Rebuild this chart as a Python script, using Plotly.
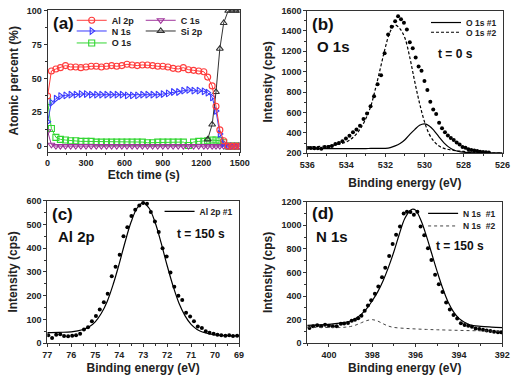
import plotly.graph_objects as go

W, H = 520, 375

# ---------------- Panel (a): depth profile ----------------
etch_time = [0, 30, 65, 100, 140, 180, 220, 260, 300, 340, 380, 420, 460, 500, 540, 580,
             620, 660, 700, 740, 780, 820, 860, 900, 940, 980, 1020, 1060, 1100, 1140,
             1180, 1220, 1250, 1285, 1315, 1345, 1375, 1410, 1440, 1470, 1500]
al_2p = [37, 55.5, 57, 58, 59.5, 58.5, 58.5, 58, 58.5, 59, 59, 58.5, 59, 59.5, 59, 59.5,
         60.5, 60, 59.5, 60, 60, 59.5, 59, 59, 58.5, 57.5, 57, 58, 56.5, 56,
         55.5, 55, 51, 44.5, 29.5, 12, 4, 0, 0, 0, 0]
n_1s = [18, 32, 35, 37, 37.5, 38, 38, 38.5, 38.5, 38, 38, 38, 38, 38, 38, 38,
        37.5, 37.5, 37.5, 38, 38, 38, 38, 38.5, 39, 40, 40, 41, 41.5, 41,
        41, 40.5, 39.5, 36, 26, 9, 2, 0, 0, 0, 0]
o_1s = [33, 13, 6.5, 5, 4.5, 4, 4, 3.5, 3.5, 3.5, 3, 3, 3, 3, 3, 3,
        3, 3, 3, 3, 2.5, 2.5, 3, 3, 3, 3, 3, 3, 0.5, 3,
        3.5, 3.5, 4, 4.5, 4.5, 4, 2.5, 0, 0, 0, 0]
c_1s = [11, 1, 0, 0, 0, 0, 0, 0, 0, 0, 0, 0, 0, 0, 0, 0,
        0, 0, 0, 0, 0, 0, 0, 0, 0, 0, 0, 0, 0, 0,
        0, 0, 0, 0, 0, 0, 0, 0, 0, 0, 0]
si_2p = [None] * 32 + [5, 16, 40, 72, 91, 100, 100, 100, 100]

# ---------------- Panel (b): O 1s, t = 0 s ----------------
o1s_be = [536.0, 535.82, 535.64, 535.46, 535.28, 535.1, 534.92, 534.74, 534.56, 534.38,
          534.2, 534.02, 533.84, 533.66, 533.48, 533.3, 533.12, 532.94, 532.76, 532.58,
          532.4, 532.22, 532.04, 531.86, 531.68, 531.5, 531.35, 531.2, 531.05, 530.9,
          530.75, 530.6, 530.45, 530.3, 530.15, 530.0, 529.85, 529.7, 529.55, 529.4,
          529.25, 529.1, 528.95, 528.8, 528.65, 528.5, 528.35, 528.2, 528.05, 527.9,
          527.75, 527.6, 527.45, 527.3, 527.15, 527.0, 526.85, 526.7]
o1s_cps = [252, 252, 250, 250, 244, 262, 262, 272, 290, 300,
           318, 345, 372, 405, 432, 470, 535, 590, 660, 760,
           878, 965, 1180, 1365, 1440, 1495, 1545, 1515, 1480, 1415,
           1290, 1230, 1140, 1050, 1010, 910, 820, 705, 630, 585,
           500, 445, 405, 375, 350, 330, 305, 285, 262, 255,
           240, 232, 228, 222, 214, 212, 210, 208]
o1s_fit_be = [536, 535.5, 535, 534.5, 534, 533.75, 533.5, 533.25, 533, 532.75, 532.5,
              532.25, 532, 531.75, 531.5, 531.25, 531, 530.75, 530.5, 530.25, 530,
              529.75, 529.5, 529.25, 529, 528.75, 528.5, 528.25, 528, 527.5, 527,
              526.5, 526]
o1s_fit1 = [245, 245, 245, 245, 245, 245, 246, 246, 246, 247, 247,
            247, 248, 255, 272, 296, 332, 385, 432, 474, 488,
            468, 420, 359, 302, 260, 232, 217, 210, 205, 204,
            203, 203]
o1s_fit2 = [262, 266, 272, 285, 310, 340, 385, 450, 540, 660, 840,
            1040, 1240, 1395, 1457, 1420, 1330, 1140, 905, 690, 510,
            385, 315, 270, 248, 237, 228, 222, 218, 210, 205,
            202, 200]

# ---------------- Panel (c): Al 2p, t = 150 s ----------------
al2p_be = [76.96, 76.8, 76.63, 76.46, 76.3, 76.13, 75.96, 75.8, 75.63, 75.47, 75.3, 75.14,
           74.97, 74.81, 74.64, 74.48, 74.31, 74.15, 73.98, 73.82, 73.66, 73.49, 73.33,
           73.16, 73.0, 72.84, 72.68, 72.51, 72.35, 72.19, 72.02, 71.86, 71.7, 71.53,
           71.37, 71.21, 71.04, 70.88, 70.72, 70.55, 70.39, 70.23, 70.06, 69.9, 69.74,
           69.57, 69.41, 69.25, 69.08]
al2p_cps = [34, 22, 36, 38, 30, 29, 31, 34, 40, 58, 67, 92,
            115, 142, 172, 208, 282, 322, 372, 450, 488, 535, 562,
            580, 590, 587, 552, 512, 468, 400, 365, 298, 238, 200,
            182, 128, 112, 92, 70, 64, 50, 44, 40, 36, 34,
            32, 34, 30, 32]
al2p_fit_be = [77, 76.5, 76, 75.5, 75.25, 75, 74.75, 74.5, 74.25, 74, 73.75, 73.5, 73.25,
               73, 72.75, 72.5, 72.25, 72, 71.75, 71.5, 71.25, 71, 70.75, 70.5, 70,
               69.5, 69]
al2p_fit1 = [45, 46, 48, 58, 69, 90, 125, 176, 248, 334, 427, 511, 569,
             591, 568, 508, 422, 327, 240, 167, 115, 79, 58, 46, 35,
             32, 31]

# ---------------- Panel (d): N 1s, t = 150 s ----------------
n1s_be = [401.09, 400.9, 400.73, 400.54, 400.36, 400.18, 400.0, 399.82, 399.64, 399.45,
          399.3, 399.12, 398.95, 398.8, 398.65, 398.5, 398.35, 398.2, 398.05, 397.88,
          397.72, 397.55, 397.4, 397.22, 397.06, 396.9, 396.72, 396.55, 396.4, 396.24,
          396.08, 395.92, 395.77, 395.6, 395.43, 395.27, 395.1, 394.93, 394.76, 394.59,
          394.42, 394.25, 394.08, 393.91, 393.74, 393.57, 393.4, 393.23, 393.06, 392.89,
          392.72, 392.55, 392.38, 392.2, 392.05]
n1s_cps = [143, 130, 143, 152, 143, 157, 149, 143, 143, 165,
           168, 171, 190, 199, 212, 232, 275, 320, 365, 420,
           480, 560, 640, 740, 840, 920, 990, 1100, 1115, 1112,
           1088, 1115, 990, 915, 805, 705, 580, 500, 435, 345,
           285, 240, 210, 170, 155, 148, 140, 125, 120, 115,
           108, 103, 97, 94, 92]
n1s_fit1_be = [401, 400.5, 400, 399.5, 399, 398.75, 398.5, 398.25, 398, 397.75, 397.5,
               397.25, 397, 396.75, 396.5, 396.25, 396.13, 396, 395.75, 395.5, 395.25,
               395, 394.75, 394.5, 394.25, 394, 393.75, 393.5, 393, 392.5, 392]
n1s_fit1 = [152, 155, 160, 170, 188, 212, 247, 295, 360, 435, 530,
            645, 777, 926, 1056, 1125, 1137, 1128, 1040, 908, 756,
            605, 466, 349, 266, 211, 178, 156, 143, 137, 133]
n1s_fit2_be = [401, 400.5, 400, 399.5, 399.25, 399, 398.75, 398.5, 398.25, 398, 397.75,
               397.5, 397.25, 397, 396.5, 396, 395.5, 395, 394, 393, 392]
n1s_fit2 = [135, 134, 133, 133, 136, 142, 155, 174, 192, 200, 188,
            165, 145, 134, 126, 121, 117, 114, 109, 105, 102]

FONT = "Arial, Liberation Sans, sans-serif"
FRAME = "#333333"

fig = go.Figure()

# ---- panel (a) traces ----
series_a = [
    ("O 1s", o_1s, "#33d633", "square-open", "legend3", 1),
    ("C 1s", c_1s, "#a0359c", "triangle-down-open", "legend", 2),
    ("N 1s", n_1s, "#3a3aff", "triangle-right-open", "legend2", 1),
    ("Si 2p", si_2p, "#333333", "triangle-up-open", "legend2", 2),
    ("Al 2p", al_2p, "#ff3c3c", "circle-open", "legend", 1),
]
for name, vals, col, sym, leg, rank in series_a:
    fig.add_trace(go.Scatter(
        x=etch_time, y=vals, name=name, mode="lines+markers",
        line=dict(color=col, width=1),
        marker=dict(symbol=sym, size=6, color=col, line=dict(width=1.1, color=col)),
        xaxis="x", yaxis="y", legend=leg, legendrank=rank, connectgaps=False))

# ---- panel (b) ----
fig.add_trace(go.Scatter(x=o1s_be, y=o1s_cps, mode="markers", showlegend=False,
                         marker=dict(color="black", size=4), xaxis="x2", yaxis="y2"))
fig.add_trace(go.Scatter(x=o1s_fit_be, y=o1s_fit1, mode="lines", name="O 1s #1",
                         line=dict(color="black", width=1.2, shape="spline"),
                         xaxis="x2", yaxis="y2", legend="legend4"))
fig.add_trace(go.Scatter(x=o1s_fit_be, y=o1s_fit2, mode="lines", name="O 1s #2",
                         line=dict(color="black", width=1.2, dash="3px,2px", shape="spline"),
                         xaxis="x2", yaxis="y2", legend="legend5"))

# ---- panel (c) ----
fig.add_trace(go.Scatter(x=al2p_be, y=al2p_cps, mode="markers", showlegend=False,
                         marker=dict(color="black", size=4), xaxis="x3", yaxis="y3"))
fig.add_trace(go.Scatter(x=al2p_fit_be, y=al2p_fit1, mode="lines", name="Al 2p #1",
                         line=dict(color="black", width=1.2, shape="spline"),
                         xaxis="x3", yaxis="y3", legend="legend6"))

# ---- panel (d) ----
fig.add_trace(go.Scatter(x=n1s_be, y=n1s_cps, mode="markers", showlegend=False,
                         marker=dict(color="black", size=4), xaxis="x4", yaxis="y4"))
fig.add_trace(go.Scatter(x=n1s_fit1_be, y=n1s_fit1, mode="lines", name="N 1s\u00a0\u00a0#1",
                         line=dict(color="black", width=1.2, shape="spline"),
                         xaxis="x4", yaxis="y4", legend="legend7"))
fig.add_trace(go.Scatter(x=n1s_fit2_be, y=n1s_fit2, mode="lines", name="N 1s\u00a0\u00a0#2",
                         line=dict(color="#444444", width=1, dash="dot", shape="spline"),
                         xaxis="x4", yaxis="y4", legend="legend8"))


def px_x(p):
    return p / W


def px_y(p):
    return 1 - p / H


tickfont = dict(family=FONT, size=9, color="#222222", weight="bold")
titlefont = dict(family=FONT, size=12, color="#222222", weight="bold")


def ax(domain, rng, dtick, minor, anchor, title, standoff):
    return dict(domain=domain, range=rng, dtick=dtick, tick0=0, anchor=anchor,
                showline=True, linecolor=FRAME, linewidth=1, mirror=True,
                ticks="outside", ticklen=3, tickcolor=FRAME, tickwidth=1,
                minor=dict(dtick=minor, ticks="outside", ticklen=2, tickcolor=FRAME),
                showgrid=False, zeroline=False, tickfont=tickfont,
                title=dict(text=title, font=titlefont, standoff=standoff))


layout = dict(
    width=W, height=H, margin=dict(l=0, r=0, t=0, b=0),
    paper_bgcolor="white", plot_bgcolor="white",
    xaxis=ax([px_x(41), px_x(240)], [0, 1500], 300, 150, "y", "Etch time (s)", 3),
    yaxis=ax([px_y(150.7), px_y(5)], [-4.1, 100.7], 25, 12.5, "x", "Atomic percent (%)", 5),
    xaxis2=ax([px_x(310), px_x(512.3)], [536, 526], 2, 1, "y2", "Binding energy (eV)", 9),
    yaxis2=ax([px_y(152.3), px_y(5.7)], [200, 1600], 200, 100, "x2", "Intensity (cps)", 6),
    xaxis3=ax([px_x(40.7), px_x(239.3)], [77, 69], 1, 0.5, "y3", "Binding energy (eV)", 4),
    yaxis3=ax([px_y(347.5), px_y(201)], [0, 600], 100, 50, "x3", "Intensity (cps)", 6),
    xaxis4=ax([px_x(310), px_x(512)], [401, 392], 2, 1, "y4", "Binding energy (eV)", 4),
    yaxis4=ax([px_y(347.5), px_y(202)], [0, 1200], 200, 100, "x4", "Intensity (cps)", 6),
    showlegend=True,
)


def leg(xp, yp, size=9, ew=None):
    d = dict(x=px_x(xp), y=px_y(yp), xanchor="left", yanchor="middle",
             bgcolor="rgba(0,0,0,0)", borderwidth=0, orientation="h",
             font=dict(family=FONT, size=size, color="#222222", weight="bold"),
             itemclick=False, itemdoubleclick=False, traceorder="normal")
    if ew is not None:
        d["entrywidth"] = ew
        d["entrywidthmode"] = "pixels"
    return d


layout["legend"] = leg(66, 15.7, 9, 24)
layout["legend2"] = leg(66, 26.7, 9, 24)
layout["legend3"] = leg(66, 39, 9, 24)
layout["legend4"] = leg(433, 18, 8.5)
layout["legend5"] = leg(433, 28, 8.5)
layout["legend6"] = leg(157, 212, 8.5)
layout["legend7"] = leg(430, 214, 8.5)
layout["legend8"] = leg(430, 227, 8.5)

fig.update_layout(**layout)


def note(text, xp, yp, size):
    fig.add_annotation(text=text, x=px_x(xp), y=px_y(yp), xref="paper", yref="paper",
                       showarrow=False, xanchor="center", yanchor="middle",
                       font=dict(family=FONT, size=size, color="#111111", weight="bold"))


note("(a)", 57, 18.5, 17)
note("(b)", 326.5, 20, 17)
note("O 1s", 337.5, 42.5, 15)
note("t = 0 s", 463.5, 50.5, 12)
note("(c)", 56.5, 215.5, 17)
note("Al 2p", 70.5, 237.5, 15)
note("t = 150 s", 200, 235, 12)
note("(d)", 326, 214.5, 17)
note("N 1s", 336, 237.5, 15)
note("t = 150 s", 468.5, 248, 12)

fig.write_html("out.html")
